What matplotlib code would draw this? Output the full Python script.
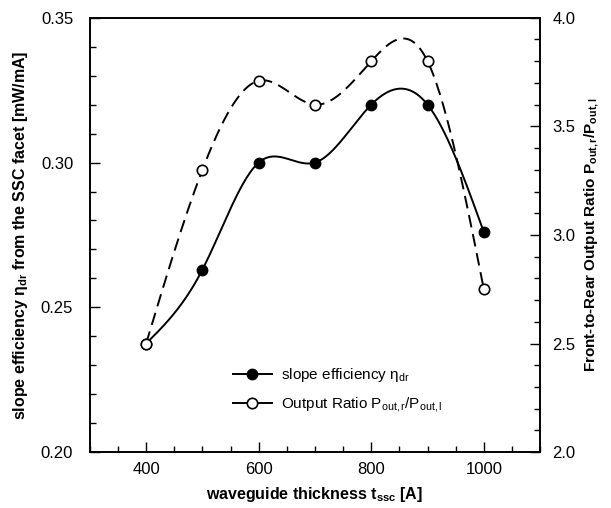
import numpy as np
import matplotlib
matplotlib.use("Agg")
import matplotlib.pyplot as plt
from matplotlib.ticker import MultipleLocator, FormatStrFormatter
from matplotlib.lines import Line2D

plt.rcParams['font.family'] = ['Liberation Sans', 'DejaVu Sans']
plt.rcParams['mathtext.fontset'] = 'custom'
plt.rcParams['mathtext.rm'] = 'Liberation Sans'
plt.rcParams['mathtext.it'] = 'Liberation Sans'
plt.rcParams['mathtext.bf'] = 'Liberation Sans:bold'

# === DATA ===
thickness = [400, 500, 600, 700, 800, 900, 1000]
slope_eff = [0.2375, 0.263, 0.300, 0.300, 0.320, 0.320, 0.276]
output_ratio = [2.50, 3.30, 3.71, 3.60, 3.80, 3.80, 2.75]


# natural cubic spline, only used to draw the smooth curve through the points
def smooth(x, y, num=300):
    x = np.asarray(x, float)
    y = np.asarray(y, float)
    n = len(x)
    h = np.diff(x)
    A = np.zeros((n, n))
    b = np.zeros(n)
    A[0, 0] = A[-1, -1] = 1
    for i in range(1, n - 1):
        A[i, i - 1] = h[i - 1]
        A[i, i] = 2 * (h[i - 1] + h[i])
        A[i, i + 1] = h[i]
        b[i] = 6 * ((y[i + 1] - y[i]) / h[i] - (y[i] - y[i - 1]) / h[i - 1])
    M = np.linalg.solve(A, b)
    xs = np.linspace(x[0], x[-1], num)
    idx = np.clip(np.searchsorted(x, xs) - 1, 0, n - 2)
    x0, x1 = x[idx], x[idx + 1]
    hh = x1 - x0
    ys = (M[idx] * (x1 - xs) ** 3 / (6 * hh) + M[idx + 1] * (xs - x0) ** 3 / (6 * hh)
          + (y[idx] / hh - M[idx] * hh / 6) * (x1 - xs)
          + (y[idx + 1] / hh - M[idx + 1] * hh / 6) * (xs - x0))
    return xs, ys


fig, ax1 = plt.subplots(figsize=(6.11, 5.08), dpi=100)
plt.subplots_adjust(left=0.147, right=0.884, bottom=0.11, top=0.965)
ax2 = ax1.twinx()

# solid curve + filled points (left axis)
xs, ys = smooth(thickness, slope_eff)
ax1.plot(xs, ys, color='black', lw=1.4)
ax1.plot(thickness, slope_eff, 'o', color='black', ms=7.5)

# dashed curve + open points (right axis)
xs, ys = smooth(thickness, output_ratio)
ax2.plot(xs, ys, color='black', lw=1.4, linestyle=(0, (6.5, 3.5)))
ax2.plot(thickness, output_ratio, 'o', color='black', mfc='white', mew=1.2, ms=7.5)

ax1.set_xlim(300, 1100)
ax1.set_ylim(0.20, 0.35)
ax2.set_ylim(2.0, 4.0)

ax1.xaxis.set_major_locator(MultipleLocator(200))
ax1.xaxis.set_minor_locator(MultipleLocator(50))
ax1.yaxis.set_major_locator(MultipleLocator(0.05))
ax1.yaxis.set_minor_locator(MultipleLocator(0.01))
ax2.yaxis.set_major_locator(MultipleLocator(0.5))
ax2.yaxis.set_minor_locator(MultipleLocator(0.1))
ax1.yaxis.set_major_formatter(FormatStrFormatter('%.2f'))
ax2.yaxis.set_major_formatter(FormatStrFormatter('%.1f'))

ax1.tick_params(which='both', direction='in', top=False, right=False, labelsize=12)
ax1.tick_params(which='major', length=7, width=1)
ax1.tick_params(which='minor', length=4, width=1)
ax1.tick_params(axis='y', pad=12)
ax1.tick_params(axis='x', pad=7)
ax2.tick_params(which='both', direction='in', labelsize=12, pad=9)
ax2.tick_params(which='major', length=7, width=1)
ax2.tick_params(which='minor', length=4, width=1)

for ax in (ax1, ax2):
    for sp in ax.spines.values():
        sp.set_linewidth(1.2)

ax1.set_xlabel(r"waveguide thickness t$_{\mathbf{ssc}}$ [A]", fontsize=11.5,
               fontweight='bold', labelpad=6)
ax1.set_ylabel(r"slope efficiency η$_{\mathbf{dr}}$ from the SSC facet [mW/mA]",
               fontsize=11.5, fontweight='bold', labelpad=8)
ax2.set_ylabel(r"Front-to-Rear Output Ratio P$_{\mathbf{out,r}}$/P$_{\mathbf{out,l}}$",
               fontsize=11, fontweight='bold', labelpad=5)

handles = [
    Line2D([], [], color='black', lw=1.4, marker='o', ms=7.5),
    Line2D([], [], color='black', lw=1.4, marker='o', ms=7.5, mfc='white', mew=1.2),
]
labels = [r"slope efficiency η$_{dr}$", r"Output Ratio P$_{out,r}$/P$_{out,l}$"]
ax2.legend(handles, labels, loc='center left', bbox_to_anchor=(0.30, 0.143),
           frameon=False, fontsize=11, handlelength=2.6, handletextpad=0.6,
           labelspacing=0.7, borderpad=0)

fig.savefig("out.png", dpi=100)
